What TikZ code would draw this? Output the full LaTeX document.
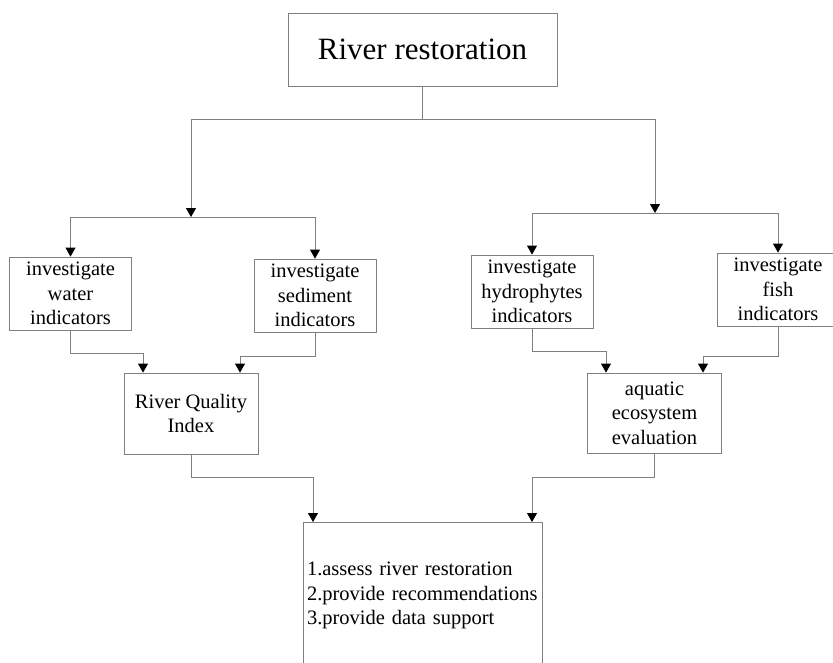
\documentclass[tikz,border=0pt]{standalone}
\usepackage{fontspec}
\setmainfont{Liberation Serif}
\usetikzlibrary{arrows.meta}
\tikzset{box/.style={draw=black!50, line width=0.8pt, align=center, inner sep=0pt, font=\fontsize{20.5}{24.5}\selectfont}}
\tikzset{leaf/.style={box, minimum width=122pt, minimum height=73pt}}
\tikzset{merge/.style={box, minimum width=134pt, minimum height=80pt}}
\tikzset{line/.style={draw=black!50, line width=0.8pt}}
\tikzset{arrow/.style={line, -{Triangle[black, width=10pt, length=9pt]}}}

\begin{document}
\begin{tikzpicture}[x=1pt, y=-1pt]
\useasboundingbox (0,0) rectangle (833,662);
\node[box, minimum width=269pt, minimum height=73pt, font=\fontsize{31}{36}\selectfont] (top) at (422.5,49.5) {River restoration};
\node[leaf] (water) at (70.5,293.5) {investigate\\water\\indicators};
\node[leaf] (sediment) at (315,295.5) {investigate\\sediment\\indicators};
\node[leaf] (hydro) at (532,291.5) {investigate\\hydrophytes\\indicators};
\node[leaf] (fish) at (778,289.5) {investigate\\fish\\indicators};
\node[merge, minimum height=81pt] (rqi) at (191,413.5) {River Quality\\Index};
\node[merge] (aquatic) at (654.5,413) {aquatic\\ecosystem\\evaluation};
\node[box, minimum width=239pt, minimum height=146pt, anchor=north, align=left, text width=231pt] (result) at (422.5,522) {1.assess river restoration\\2.provide recommendations\\3.provide data support};
\coordinate (jl) at (191,217);
\coordinate (jr) at (655,213);
% split
\draw[arrow] (top.south) -- ++(0,33) -| (jl);
\draw[arrow] (top.south) -- ++(0,33) -| (jr);
\draw[arrow] (jl) -| (water.north);
\draw[arrow] (jl) -| (sediment.north);
\draw[arrow] (jr) -| (hydro.north);
\draw[arrow] (jr) -| (fish.north);
% merge
\draw[arrow] (water.south) -- ++(0,23) -| ([xshift=-48pt]rqi.north);
\draw[arrow] (sediment.south) -- ++(0,24) -| ([xshift=49pt]rqi.north);
\draw[arrow] (hydro.south) -- ++(0,23) -| ([xshift=-48.5pt]aquatic.north);
\draw[arrow] (fish.south) -- ++(0,30) -| ([xshift=48.5pt]aquatic.north);
\draw[arrow] (rqi.south) -- ++(0,23) -| ([xshift=-109.5pt]result.north);
\draw[arrow] (aquatic.south) -- ++(0,24) -| ([xshift=109.5pt]result.north);
\end{tikzpicture}
\end{document}
